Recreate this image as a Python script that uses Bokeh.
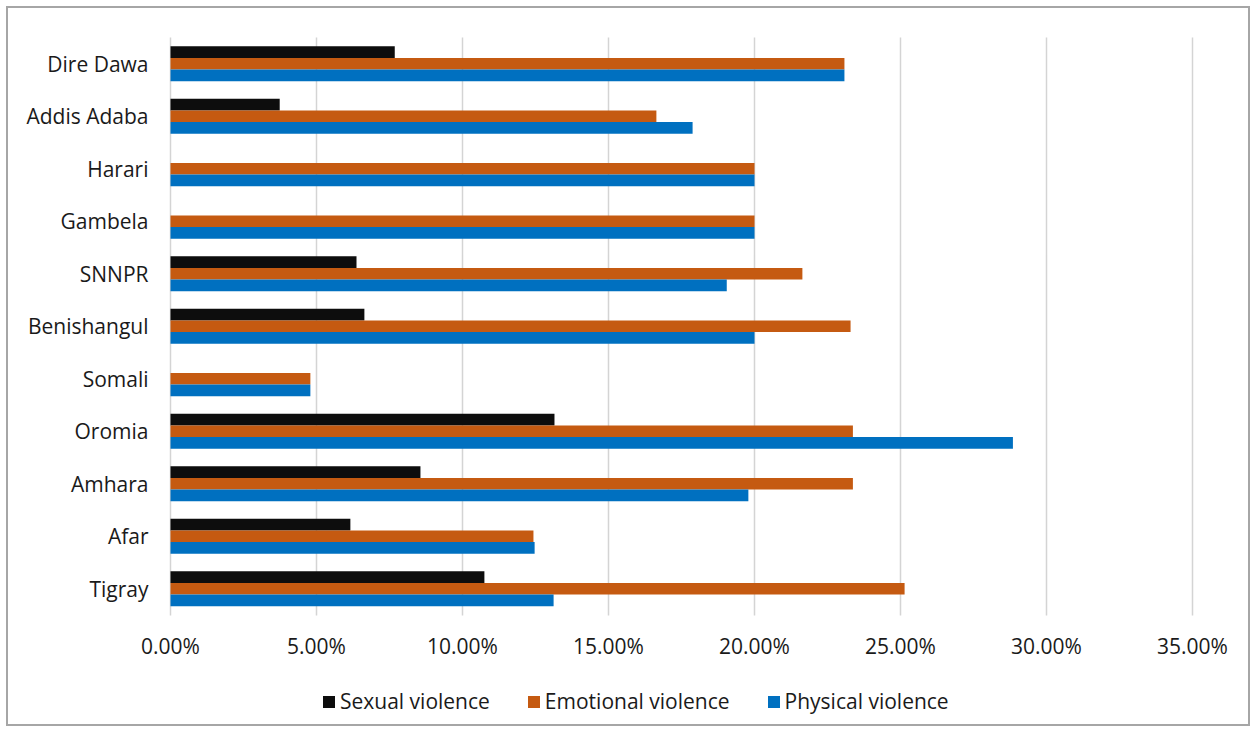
from bokeh.plotting import figure
from bokeh.models import (ColumnDataSource, NumeralTickFormatter, Legend, LegendItem,
                          FixedTicker, Range1d)
from bokeh.transform import dodge
from bokeh.embed import file_html
from bokeh.resources import INLINE

regions = ["Dire Dawa", "Addis Adaba", "Harari", "Gambela", "SNNPR", "Benishangul",
           "Somali", "Oromia", "Amhara", "Afar", "Tigray"]
sexual = [0.0768, 0.0374, 0.0, 0.0, 0.0637, 0.0664, 0.0, 0.1315, 0.0856, 0.0616, 0.1075]
emotional = [0.2308, 0.1664, 0.2000, 0.2000, 0.2164, 0.2329, 0.0479, 0.2337, 0.2337, 0.1243, 0.2514]
physical = [0.2308, 0.1788, 0.2000, 0.2000, 0.1905, 0.2000, 0.0479, 0.2885, 0.1979, 0.1247, 0.1312]
series_names = ["Sexual violence", "Emotional violence", "Physical violence"]
x_ticks = [0.0, 0.05, 0.10, 0.15, 0.20, 0.25, 0.30, 0.35]

FONT = "Open Sans"
FS = "21px"
n = len(regions)
ypos = [n - 1 - i for i in range(n)]  # first region on top
src = ColumnDataSource(dict(region=regions, y=ypos, sexual=sexual, emotional=emotional, physical=physical))

W, H = 1256, 732
# plot-area placement (pixels) of the value axis 0..35% and of the category band
x0_px, x1_px = 170, 1192
top_px, px_per_cat = 37, 52.5
xmax = x_ticks[-1]
sx = (x1_px - x0_px) / xmax
x_start = -x0_px / sx
x_end = xmax + (W - x1_px) / sx
y_top = (n - 0.5) + top_px / px_per_cat
y_bottom = (n - 0.5) - (H - top_px) / px_per_cat

p = figure(width=W, height=H, x_range=Range1d(x_start, x_end), y_range=Range1d(y_bottom, y_top),
           output_backend="svg", toolbar_location=None,
           min_border_left=0, min_border_right=0, min_border_top=0, min_border_bottom=0)
p.border_fill_color = None
p.background_fill_color = None
p.styles = {"outline": "2px solid #a6a6a6", "outline-offset": "-8px", "background": "white"}

bh = 0.222
r1 = p.hbar(y=dodge("y", bh), right="sexual", left=0, height=bh, source=src,
            fill_color="#0d0d0d", line_color=None)
r2 = p.hbar(y=dodge("y", 0), right="emotional", left=0, height=bh, source=src,
            fill_color="#c55a11", line_color=None)
r3 = p.hbar(y=dodge("y", -bh), right="physical", left=0, height=bh, source=src,
            fill_color="#0070c0", line_color=None)

p.outline_line_color = None
p.ygrid.grid_line_color = None
p.xgrid.grid_line_color = "#d4d4d4"
p.xgrid.grid_line_width = 1.5
p.xgrid.ticker = FixedTicker(ticks=x_ticks)
p.xgrid.bounds = (0, xmax)
p.xgrid.cross_bounds = (-0.5, n - 0.5)

p.xaxis.ticker = FixedTicker(ticks=x_ticks)
p.xaxis.formatter = NumeralTickFormatter(format="0.00%")
p.xaxis.fixed_location = -0.5
p.yaxis.ticker = FixedTicker(ticks=ypos)
p.yaxis.major_label_overrides = {y: r for y, r in zip(ypos, regions)}
p.yaxis.fixed_location = 0
for ax in (p.xaxis, p.yaxis):
    ax.axis_line_color = None
    ax.major_tick_line_color = None
    ax.minor_tick_line_color = None
    ax.major_tick_out = 0
    ax.major_tick_in = 0
    ax.minor_tick_out = 0
    ax.major_label_text_font = FONT
    ax.major_label_text_font_size = FS
    ax.major_label_text_color = "#1a1a1a"
p.xaxis.major_label_standoff = 17
p.yaxis.major_label_standoff = 22

legend = Legend(items=[LegendItem(label=series_names[0], renderers=[r1]),
                       LegendItem(label=series_names[1], renderers=[r2]),
                       LegendItem(label=series_names[2], renderers=[r3])],
                orientation="horizontal", location=(321, 17),
                padding=0, margin=0, spacing=36, label_standoff=4,
                glyph_width=15, glyph_height=15,
                label_text_font=FONT, label_text_font_size=FS, label_text_color="#1a1a1a",
                border_line_color=None, background_fill_alpha=0)
p.add_layout(legend, "center")

open("out.html", "w").write(file_html(p, INLINE))
